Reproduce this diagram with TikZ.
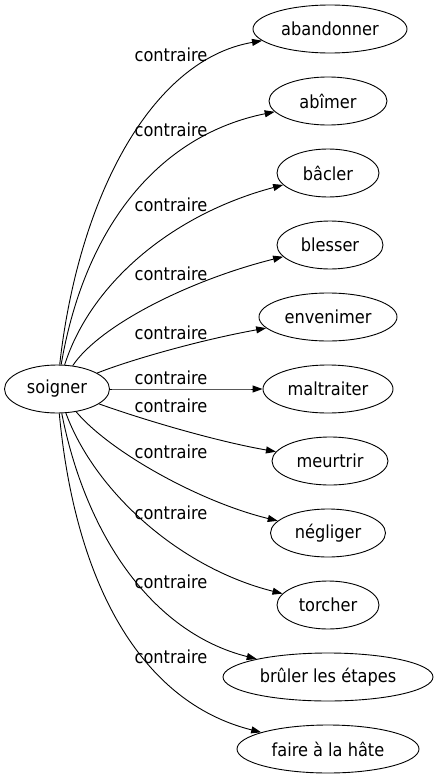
\documentclass[tikz,border=0pt]{standalone}
\usepackage{fontspec}
\setmainfont{DejaVu Sans Condensed}
\usetikzlibrary{arrows.meta,shapes.geometric}

\begin{document}
\begin{tikzpicture}[x=1pt,y=-1pt, line width=0.9pt,
        lex/.style={draw, ellipse, inner sep=0pt,
                    minimum height=48pt,
                    font=\fontsize{18}{20}\selectfont},
        rel/.style={-{Triangle[length=10pt,width=7pt]}},
        lbl/.style={inner sep=0pt,
                    font=\fontsize{18}{20}\selectfont}]
        \useasboundingbox (0,0) rectangle (437,779);
        \node[lex, minimum width=105pt] (soigner) at (57,389) {soigner};
        \node[lex, minimum width=154pt] (abandonner) at (330,29)  {abandonner};
        \node[lex, minimum width=118pt] (abimer)     at (328,101) {abîmer};
        \node[lex, minimum width=102pt] (bacler)     at (328,173) {bâcler};
        \node[lex, minimum width=106pt] (blesser)    at (330,245) {blesser};
        \node[lex, minimum width=138pt] (envenimer)  at (328,317) {envenimer};
        \node[lex, minimum width=130pt] (maltraiter) at (328,389) {maltraiter};
        \node[lex, minimum width=116pt] (meurtrir)   at (330,461) {meurtrir};
        \node[lex, minimum width=115pt] (negliger)   at (328,533) {négliger};
        \node[lex, minimum width=102pt] (torcher)    at (328,605) {torcher};
        \node[lex, minimum width=210pt] (bruler)     at (328,677) {brûler les étapes};
        \node[lex, minimum width=182pt] (faire)      at (328,749) {faire à la hâte};
        % edges soigner -> contraires
        \foreach \t/\a/\b/\ly [count=\i] in {
            abandonner/{78,200}/{150,60}/55,
            abimer/{85,225}/{160,135}/130,
            bacler/{90,285}/{170,215}/205,
            blesser/{100,325}/{190,280}/274,
            envenimer/{130,360}/{200,340}/333,
            maltraiter/{150,389}/{220,389}/378,
            meurtrir/{150,422}/{220,442}/406,
            negliger/{110,452}/{200,502}/452,
            torcher/{95,492}/{180,568}/513,
            bruler/{85,532}/{150,632}/582,
            faire/{75,582}/{140,702}/657}{
          \node[lbl] (l\i) at (171,\ly) {contraire};
          \draw[rel] (soigner) .. controls (\a) and (\b) .. (\t);
        }
      \end{tikzpicture}
\end{document}
